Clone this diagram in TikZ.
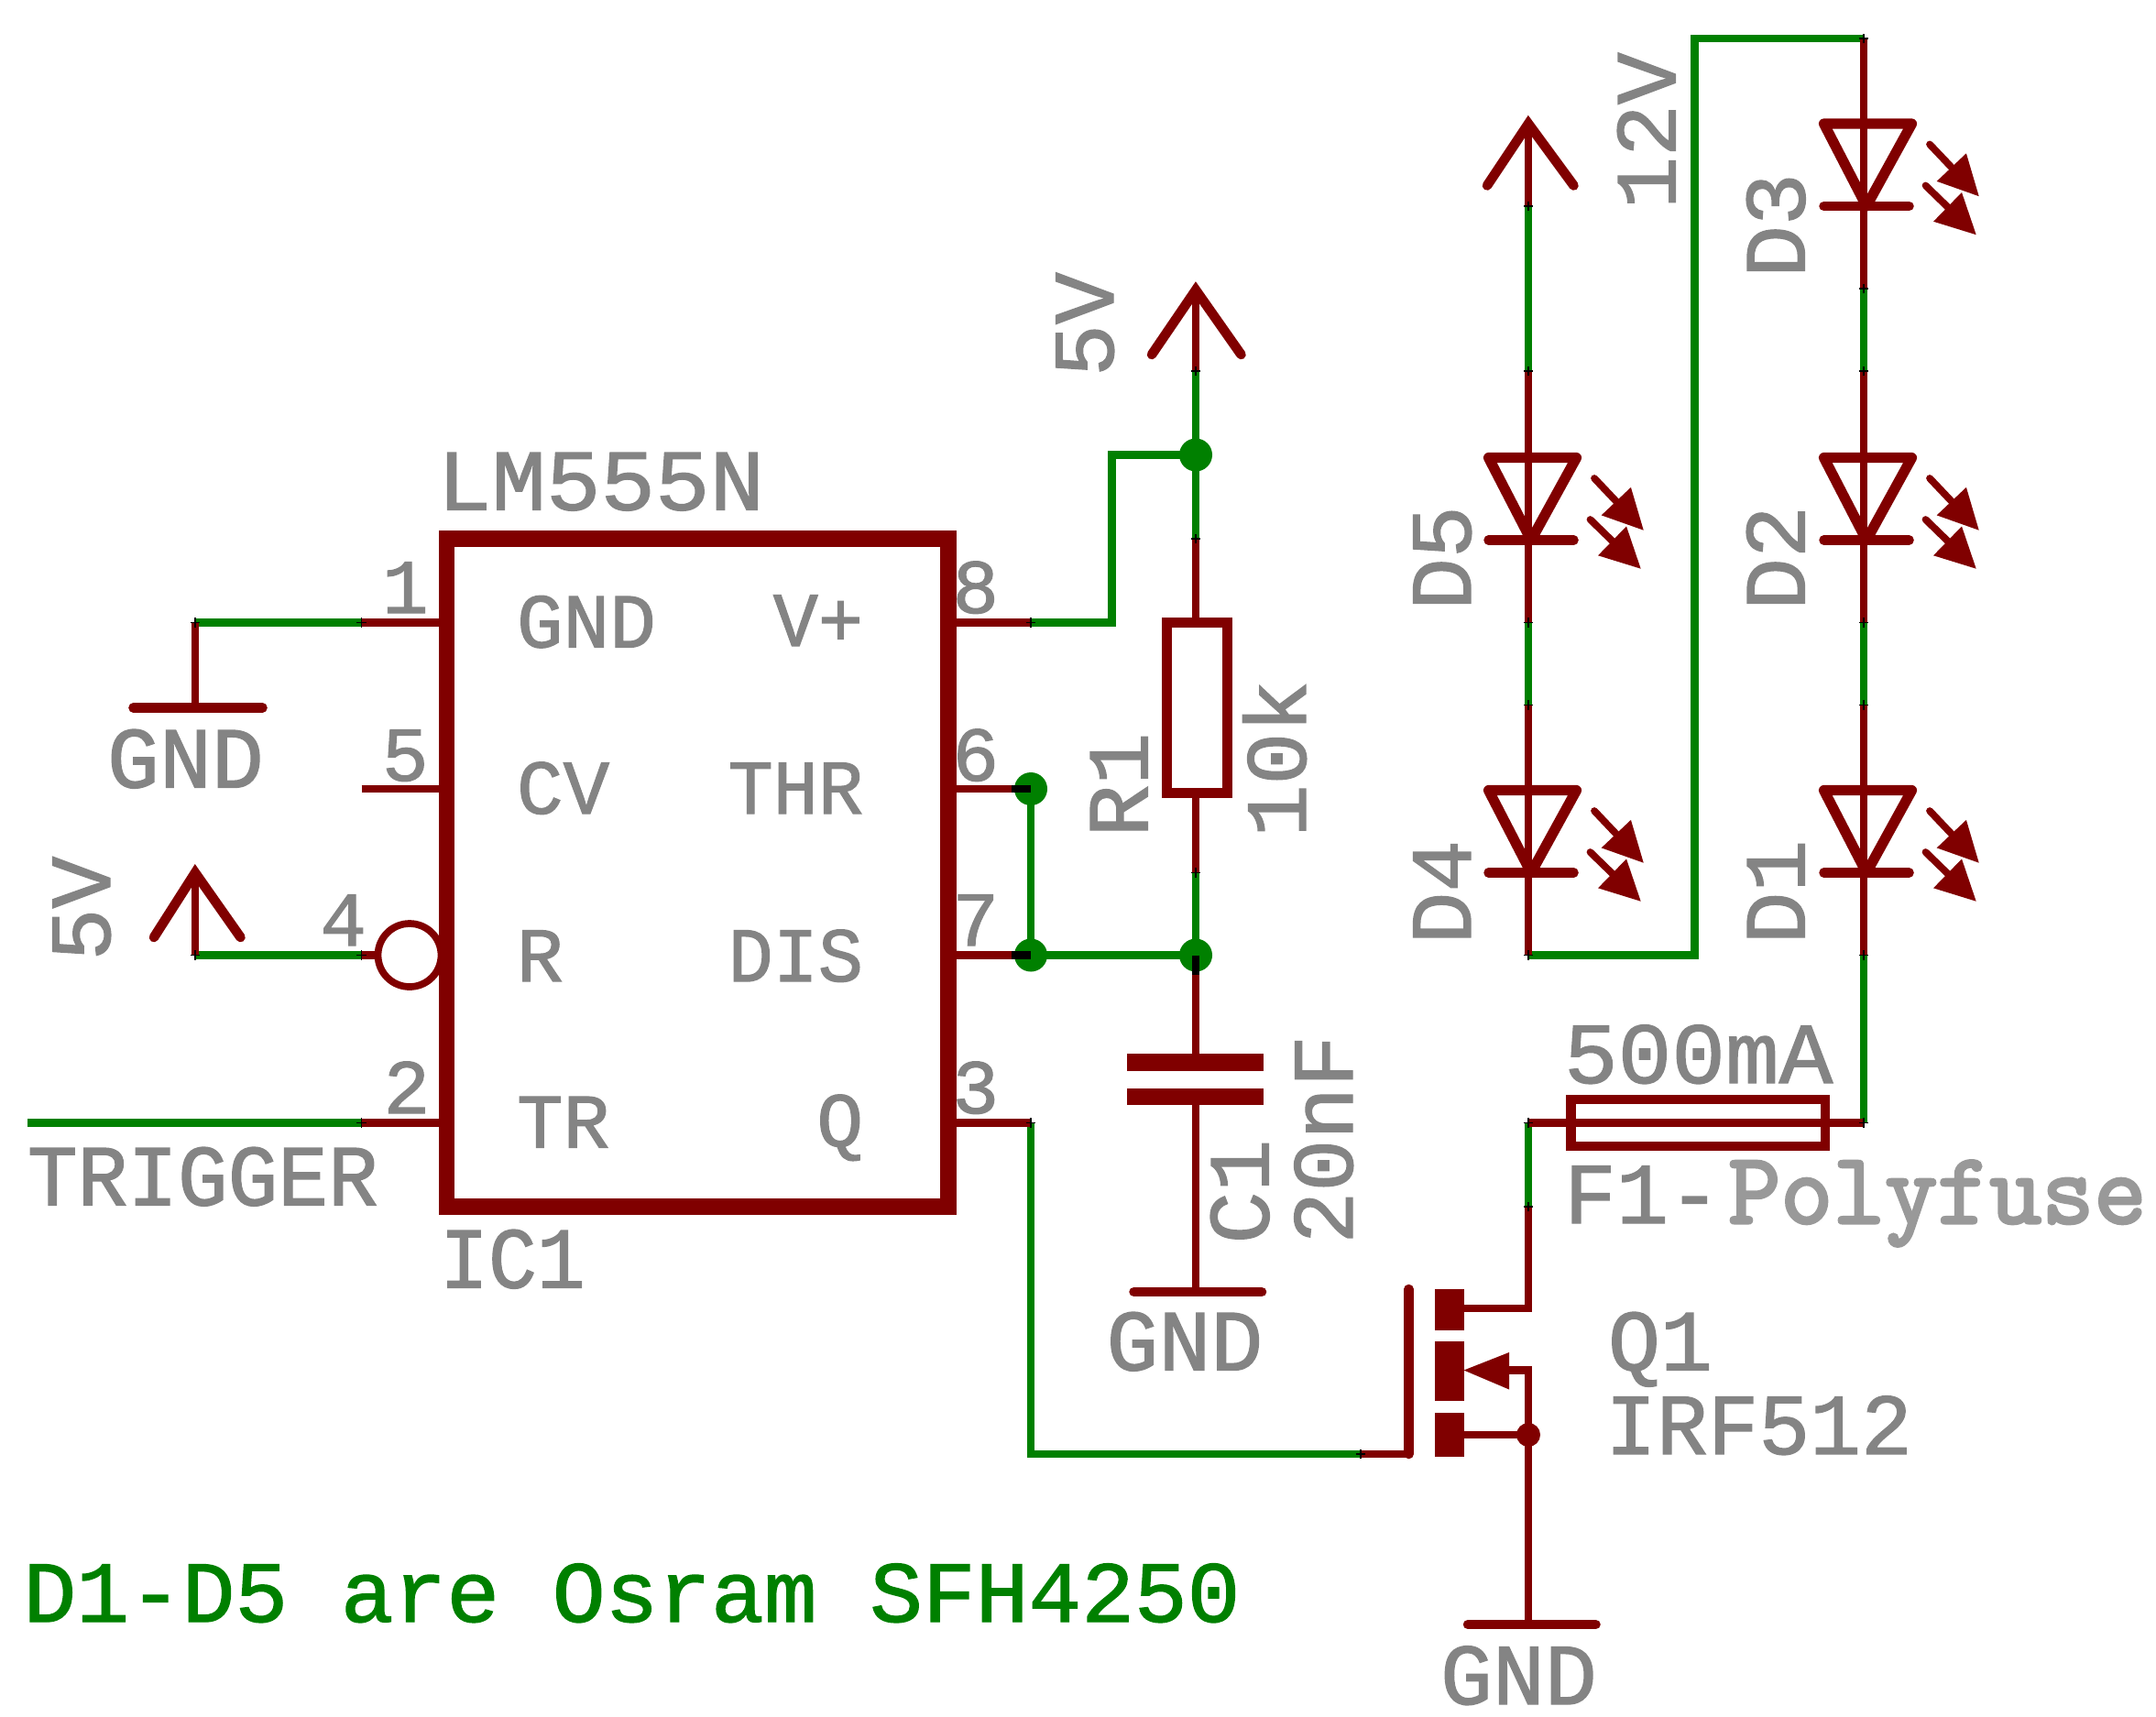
\documentclass[tikz,border=0pt]{standalone}
\usepackage{fontspec}
\usetikzlibrary{arrows.meta}
\setmonofont{Latin Modern Mono}
\newfontfamily\eag[FakeBold=1.4]{Liberation Mono}
\newfontfamily\slab[FakeBold=3]{Latin Modern Mono}
\definecolor{net}{HTML}{008000}
\definecolor{sym}{HTML}{800000}
\definecolor{lab}{HTML}{848484}
\definecolor{lab2}{HTML}{999999}
\newcommand{\bigt}{\fontsize{27}{27}\selectfont}
\newcommand{\smt}{\fontsize{24}{24}\selectfont}
\tikzset{
  wire/.style={net,line width=2.4pt},
  lead/.style={sym,line width=2.4pt},
  body/.style={sym,line width=3pt,line cap=round},
  frame/.style={sym,line width=4.9pt,line join=miter},
  bar/.style={sym,line width=3pt,line cap=round},
  plate/.style={sym,line width=5.2pt},
  solid block/.style={fill=sym,draw=none},
  lbl/.style={inner sep=0pt,outer sep=0pt,text=lab,anchor=base west,font=\eag\bigt},
  rlbl/.style={lbl,rotate=90},
  pinlbl/.style={inner sep=0pt,outer sep=0pt,text=lab,anchor=base west,font=\eag\smt},
  pinlblr/.style={pinlbl,anchor=base east},
  junction/.style={circle,fill=net,draw=none,minimum size=3.6mm,inner sep=0pt},
  jmark/.style={black,line width=0.5pt},
  stub/.style={black,line width=2.4pt},
  led/.pic={
    \draw[sym,line width=3.2pt,line join=round] (-29,-60) -- (35,-60) -- (2,0) -- cycle;
    \draw[bar] (-29,0) -- (33,0);
    \draw[lead] (0,-60) -- (0,0);
    \draw[sym,line width=2.2pt,line cap=round,-{Triangle[length=12.5pt,width=12pt]}] (48,-45) -- (84,-7);
    \draw[sym,line width=2.2pt,line cap=round,-{Triangle[length=12.5pt,width=12pt]}] (45,-15) -- (82,21);
  }
}
\begin{document}
\begin{tikzpicture}[x=0.015cm,y=-0.015cm]
\useasboundingbox (0,0) rectangle (1568.67,1248.67);
% ---- coordinates
\coordinate (p1o) at (263,453); \coordinate (p1i) at (325,453);
\coordinate (g1c) at (142,453); \coordinate (g1b) at (142,515);
\coordinate (p5o) at (263,574); \coordinate (p5i) at (325,574);
\coordinate (p4o) at (263,695); \coordinate (p4b) at (275,695);
\coordinate (v4) at (142,695); \coordinate (v4t) at (142,635);
\coordinate (p2o) at (263,817); \coordinate (p2i) at (325,817); \coordinate (trg) at (20,817);
\coordinate (p8i) at (690,453); \coordinate (p8o) at (750,453);
\coordinate (c8) at (809,453); \coordinate (c8u) at (809,331);
\coordinate (p6i) at (690,574); \coordinate (p7i) at (690,695);
\coordinate (p3i) at (690,817); \coordinate (p3o) at (750,817);
\coordinate (p3b) at (750,1058); \coordinate (gate) at (990,1058); \coordinate (gatei) at (1025,1058);
\coordinate (cj5v) at (870,331);
\coordinate (cj6) at (750,574);
\coordinate (cj7) at (750,695);
\coordinate (cj9) at (870,695);
\coordinate (v5t) at (870,211); \coordinate (v5m) at (870,270);
\coordinate (r1a) at (870,392); \coordinate (r1t) at (870,453);
\coordinate (r1b) at (870,577); \coordinate (r1c) at (870,635);
\coordinate (c1g) at (870,940);
\coordinate (dtop) at (1112,878); \coordinate (dfuse) at (1112,817);
\coordinate (dd) at (1112,952); \coordinate (sjoin) at (1112,1044);
\coordinate (sgnd) at (1112,1182); \coordinate (sarr) at (1112,997);
\coordinate (ffuse) at (1356,817);
\coordinate (t1) at (1233,28); \coordinate (t2) at (1356,28); \coordinate (t3) at (1233,695);
\coordinate (l1) at (1112,695); \coordinate (r695) at (1356,695);
\coordinate (a1) at (1356,210); \coordinate (a2) at (1356,270);
\coordinate (a3) at (1356,453); \coordinate (a4) at (1356,513);
\coordinate (b1) at (1112,150); \coordinate (b2) at (1112,270);
\coordinate (b3) at (1112,453); \coordinate (b4) at (1112,513);
\coordinate (s6) at (736,574); \coordinate (s7) at (736,695); \coordinate (s9) at (870,709);

% ---- green nets
\draw[wire] (g1c) -- (p1o);
\draw[wire] (v4) -- (p4o);
\draw[wire] (trg) -- (p2o);
\draw[wire,line join=miter] (p8o) -- (c8) -- (c8u) -- (cj5v);
\draw[wire] (v5m) -- (r1a);
\draw[wire] (cj6) -- (cj7) -- (cj9);
\draw[wire] (r1c) -- (cj9);
\draw[wire,line join=miter] (p3o) -- (p3b) -- (gate);
\draw[wire] (dfuse) -- (dtop);
\draw[wire] (ffuse) -- (r695);
\draw[wire,line join=miter] (l1) -- (t3) -- (t1) -- (t2);
\draw[wire] (a1) -- (a2);
\draw[wire] (a3) -- (a4);
\draw[wire] (b1) -- (b2);
\draw[wire] (b3) -- (b4);

% ---- IC
\draw[lead] (p1o) -- (p1i); \draw[lead] (p5o) -- (p5i);
\draw[lead] (p4o) -- (p4b); \draw[lead] (p2o) -- (p2i);
\draw[lead] (p8i) -- (p8o); \draw[lead] (p6i) -- (s6);
\draw[lead] (p7i) -- (s7); \draw[lead] (p3i) -- (p3o);
\draw[sym,line width=2.2pt] (298,695) circle (23);
\draw[frame] (325,392) rectangle (690,878);

% ---- GND / supply for IC
\draw[lead] (g1c) -- (g1b);
\draw[bar] (97,515) -- (191,515);
\draw[lead] (v4) -- (v4t);
\draw[body,line join=miter] (112,682) -- (v4t) -- (175,682);

% ---- R1, C1, 5V
\draw[lead] (v5t) -- (v5m);
\draw[body,line join=miter] (838,258) -- (v5t) -- (903,258);
\draw[lead] (r1a) -- (r1t);
\draw[sym,line width=3pt] (849,453) rectangle (893,577);
\draw[lead] (r1b) -- (r1c);
\draw[lead] (s9) -- (870,768);
\draw[plate] (820,773) -- (919,773);
\draw[plate] (820,798) -- (919,798);
\draw[lead] (870,803) -- (c1g);
\draw[bar] (825,940) -- (918,940);
\node[junction] (j5v) at (cj5v) {};
\node[junction] (j6) at (cj6) {};
\node[junction] (j7) at (cj7) {};
\node[junction] (j9) at (cj9) {};
\draw[stub] (s6) -- (j6.center);
\draw[stub] (s7) -- (j7.center);
\draw[stub] (j9.center) -- (s9);

% ---- MOSFET
\draw[lead] (gate) -- (gatei);
\draw[body] (1025,938) -- (gatei);
\fill[solid block] (1044,938) rectangle (1065,968);
\fill[solid block] (1044,976) rectangle (1065,1019);
\fill[solid block] (1044,1028) rectangle (1065,1060);
\draw[lead,line join=miter] (1065,952) -- (dd) -- (dtop);
\draw[lead] (1065,1044) -- (sjoin);
\draw[lead,line join=miter] (1095,997) -- (sarr) -- (sgnd);
\fill[sym] (1065,997) -- (1098,984) -- (1098,1011) -- cycle;
\node[circle,fill=sym,minimum size=0.26cm,inner sep=0pt] (js) at (sjoin) {};
\draw[bar] (1068,1182) -- (1161,1182);

% ---- fuse
\draw[lead] (dfuse) -- (ffuse);
\draw[sym,line width=3pt] (1143,800) rectangle (1328,834);

% ---- LED columns
\draw[lead] (t2) -- (a1);
\draw[lead] (a2) -- (a3);
\draw[lead] (a4) -- (r695);
\draw[lead] (1112,90) -- (b1);
\draw[body,line join=miter] (1082,135) -- (1112,90) -- (1145,135);
\draw[lead] (b2) -- (b3);
\draw[lead] (b4) -- (l1);
\pic at (1356,150) {led};
\pic at (1356,393) {led};
\pic at (1356,635) {led};
\pic at (1112,393) {led};
\pic at (1112,635) {led};

% ---- small black joint marks
\foreach \c in {p1o,g1c,p4o,v4,p2o,p8o,p3o,gate,dtop,dfuse,ffuse,t2,l1,r695,a1,a2,a3,a4,b1,b2,b3,b4,v5m,r1a,r1c}{
  \draw[jmark] ([xshift=-1.5pt]\c) -- ([xshift=1.5pt]\c);
  \draw[jmark] ([yshift=-1.5pt]\c) -- ([yshift=1.5pt]\c);
}

% ---- texts
\node[lbl,xscale=1.045] (tlm) at (318,371) {LM555N};
\node[lbl,xscale=0.93] (tic) at (320,937) {IC1};
\node[lbl] (tg1) at (78,573) {GND};
\node[lbl,xscale=0.96] (ttr) at (20,877) {TRIGGER};
\node[rlbl] (t5a) at (80,699) {5V};
\node[rlbl] (t5b) at (810,274) {5V};
\node[rlbl] (tr1) at (835,609) {R1};
\node[rlbl] (t10) at (950,609) {10k};
\node[rlbl] (tc1) at (923,905) {C1};
\node[rlbl] (t20) at (984,905) {20nF};
\node[lbl] (tg2) at (805,997) {GND};
\node[lbl] (tg3) at (1048,1240) {GND};
\node[lbl] (tq) at (1170,997) {Q1};
\node[lbl,xscale=0.98] (tir) at (1168,1058) {IRF512};
\node[lbl,xscale=1.03] (t500) at (1138,788) {500mA};
\node[lbl] (tf1) at (1138,890) {F1-};
\node[inner sep=0pt,anchor=base west,text=lab2,font=\slab\fontsize{31.5}{31.5}\selectfont] (tpoly) at (1257,890) {Polyfuse};
\node[rlbl] (td3) at (1313,202) {D3};
\node[rlbl] (td2) at (1313,444) {D2};
\node[rlbl] (td1) at (1313,687) {D1};
\node[rlbl] (td5) at (1070,444) {D5};
\node[rlbl] (td4) at (1070,687) {D4};
\node[rlbl] (t12) at (1219,152) {12V};
\node[lbl,text=net,xscale=1.014] (tnote) at (17,1180) {D1-D5 are Osram SFH4250};
% pin numbers
\node[pinlbl] (n1) at (278,446) {1};
\node[pinlbl] (n5) at (278,568) {5};
\node[pinlbl] (n4) at (233,688) {4};
\node[pinlbl] (n2) at (279,810) {2};
\node[pinlbl] (n8) at (693,446) {8};
\node[pinlbl] (n6) at (693,568) {6};
\node[pinlbl] (n7) at (693,688) {7};
\node[pinlbl] (n3) at (693,810) {3};
% pin names
\node[pinlbl] (pa) at (376,471) {GND};
\node[pinlbl] (pb) at (376,592) {CV};
\node[pinlbl] (pc) at (376,714) {R};
\node[pinlbl] (pd) at (376,835) {TR};
\node[pinlblr,xscale=0.97] (pe) at (628,470) {V+};
\node[pinlblr,xscale=0.97] (pf) at (628,592) {THR};
\node[pinlblr,xscale=0.97] (pg) at (628,714) {DIS};
\node[pinlblr] (ph) at (628,834) {Q};
\end{tikzpicture}
\end{document}
